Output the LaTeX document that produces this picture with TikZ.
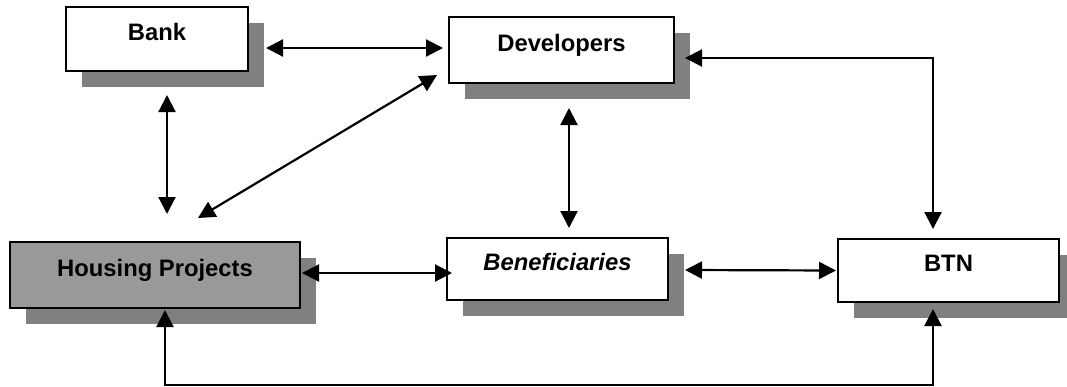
\documentclass[tikz,border=0pt]{standalone}
\usepackage{fontspec}
\setmainfont{Liberation Sans}
\usetikzlibrary{arrows.meta,shadows,calc}
\definecolor{shadowgray}{HTML}{808080}
\definecolor{boxgray}{HTML}{999999}
\tikzset{
  entity/.style={draw=black, line width=2pt, fill=white, rectangle,
    inner sep=0pt, text height=17pt, text depth=15pt,
    font=\fontsize{23.8}{28}\selectfont\bfseries,
    drop shadow={shadow xshift=16pt, shadow yshift=-16pt, fill=shadowgray, opacity=1}},
  link/.style={line width=2.2pt, >={Triangle[length=17pt,width=17pt]}, <->},
}
\begin{document}
\begin{tikzpicture}[x=1pt,y=-1pt]
\useasboundingbox (0,0) rectangle (1067,386);
\clip (0,0) rectangle (1067,386);

% organisations
\node[entity, minimum width=182pt, minimum height=64pt] (bank) at (157,39) {Bank};
\node[entity, minimum width=225pt, minimum height=66pt] (dev) at (561.5,50) {Developers};
\node[entity, fill=boxgray, minimum width=290pt, minimum height=66pt] (hp) at (155,275) {Housing Projects};
\node[entity, minimum width=221pt, minimum height=62pt] (ben) at (557.5,269) {\itshape Beneficiaries};
\node[entity, minimum width=221pt, minimum height=63pt] (btn) at (948.5,270.5) {BTN};

% relations
\draw[link] ($(bank.east)+(17,9)$) -- ($(dev.west)+(-5,-2)$);
\draw[link] ($(bank.south)+(10,23)$) -- ($(hp.north)+(12,-27)$);
\draw[link] ($(hp.north)+(43,-23)$) -- ($(dev.south west)+(-11,-9)$);
\draw[link] ($(dev.south)+(7.5,24)$) -- ($(ben.north)+(11.5,-9)$);
\draw[link] ($(dev.east)+(10,8)$) -| ($(btn.north)+(-15.5,-9)$);
\draw[link] ($(hp.east)+(1,-2)$) -- ($(ben.west)+(6,4)$);
\draw[link] ($(ben.east)+(16,1)$) -- ($(btn.west)+(-1,0)$);
\draw[link] ($(hp.south)+(10,1)$) -- ++(0,75) -| ($(btn.south)+(-15.5,6)$);
\end{tikzpicture}
\end{document}
